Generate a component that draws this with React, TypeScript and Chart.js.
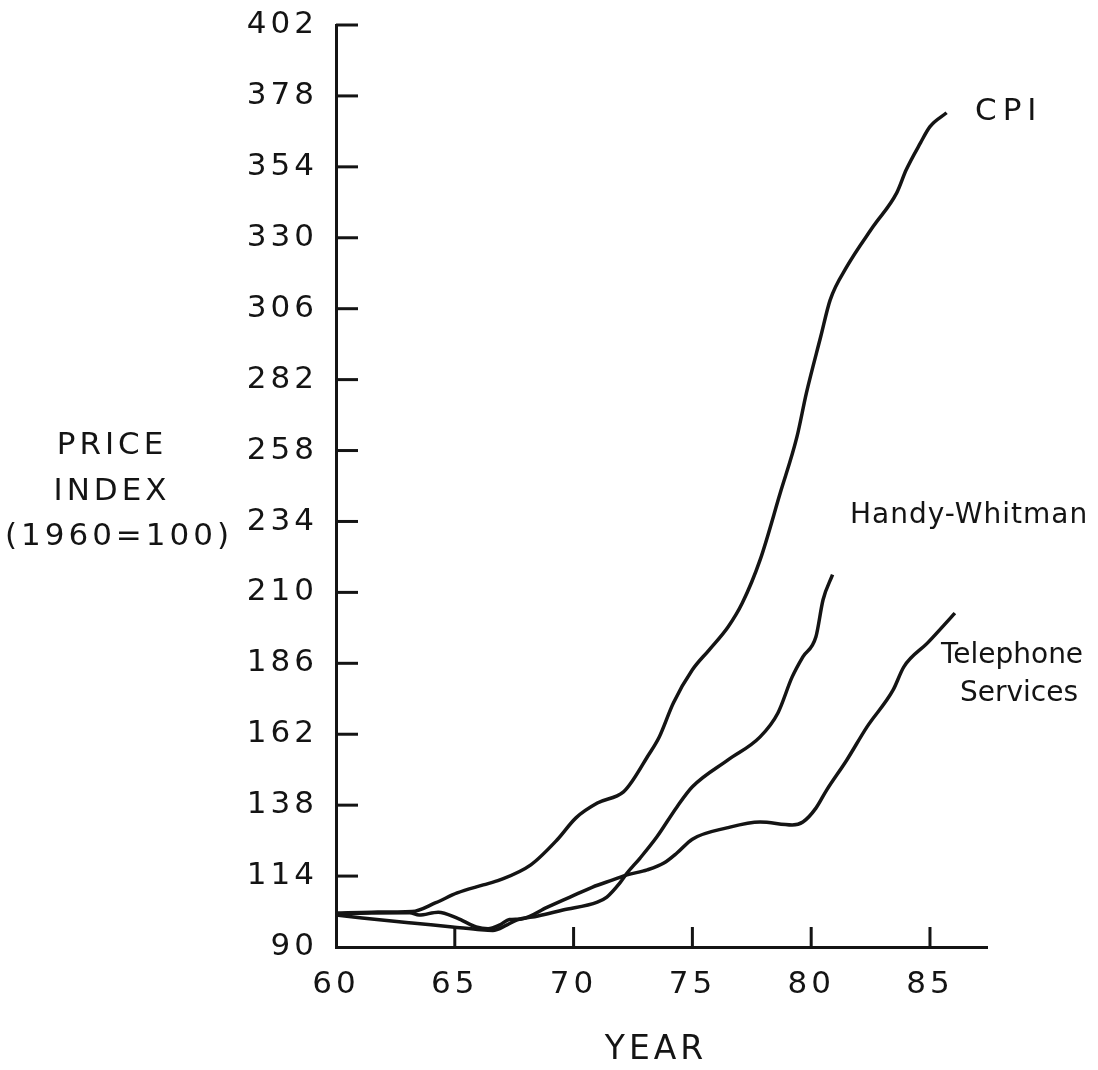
import React, { useEffect, useRef } from "react";
import { Chart, registerables } from "chart.js";

Chart.register(...registerables);

// ---- data ----
const xTickValues = [60, 65, 70, 75, 80, 85];
const yMin = 90;
const yMax = 402;
const yStep = 24;
const xMin = 60;
const xMax = 87.4;

const cpiYears = [60, 61.5, 63.2, 64.2, 65.1, 66.2, 66.9, 68.2, 69.3, 70.1, 71.0, 72.1, 72.5, 73.1, 73.6, 74.2, 75.0, 75.7, 76.5, 77.1, 77.85, 78.7, 79.4, 79.8, 80.4, 80.8, 81.5, 82.6, 83.6, 84.0, 84.6, 85.0, 85.7];
const cpiValues = [101.5, 101.8, 102, 105, 108.3, 111, 112.7, 117.8, 126.2, 133.7, 138.7, 142.5, 146.5, 154.3, 161, 172.6, 183.8, 190.5, 198.3, 206.4, 221, 243.7, 262.6, 277.5, 296.5, 309, 320.2, 333.7, 345.2, 353, 362.1, 367.6, 372.3];

const hwYears = [60, 61.1, 63.2, 64.9, 66.1, 66.6, 67.2, 67.6, 68.5, 69.55, 71.0, 71.4, 71.95, 72.25, 72.8, 73.5, 74.35, 75.0, 76.5, 77.85, 78.6, 79.2, 79.65, 80.2, 80.5, 80.9];
const hwValues = [100.8, 99.8, 98.1, 96.8, 95.8, 95.6, 97.5, 99.1, 100.5, 102.5, 105.2, 106.9, 111.7, 115, 120.1, 127.2, 137.4, 144.2, 153.3, 161.1, 169.2, 181.4, 188.2, 195, 207.5, 216];

const telYears = [60, 61.5, 63.1, 63.5, 64.3, 65.1, 65.9, 66.4, 66.9, 67.3, 67.8, 68.9, 69.85, 70.8, 71.65, 72.25, 73.1, 73.8, 74.35, 75.0, 76.45, 77.85, 79.2, 79.65, 80.2, 80.65, 81.5, 82.35, 83.45, 83.9, 84.9, 86.05];
const telValues = [101.2, 101.5, 101.6, 100.8, 101.8, 99.8, 96.8, 96.2, 97.5, 99.3, 99.5, 103.5, 106.9, 110.3, 112.7, 114.4, 116.1, 118.4, 121.8, 126.5, 130.3, 132.3, 131.3, 132.3, 137, 143.1, 153.3, 164.5, 177, 184.8, 192.9, 203];

const seriesNames = ["CPI", "Handy-Whitman", "Telephone Services"];
const yTitleLines = ["PRICE", "INDEX", "(1960=100)"];
const xTitle = "YEAR";

// ---- style ----
const FONT = '"DejaVu Sans", sans-serif';
const INK = "#141414";

const toPoints = (xs: number[], ys: number[]) => xs.map((x, i) => ({ x, y: ys[i] }));

const spacing = {
  id: "spacing",
  beforeDraw(chart: any) {
    (chart.ctx as any).letterSpacing = "4px";
  },
  afterDraw(chart: any) {
    (chart.ctx as any).letterSpacing = "0px";
  },
};

const insideTicks = {
  id: "insideTicks",
  afterDraw(chart: any) {
    const { ctx, chartArea, scales } = chart;
    ctx.save();
    ctx.strokeStyle = INK;
    ctx.lineWidth = 3;
    ctx.lineCap = "butt";
    scales.x.ticks.forEach((t: any) => {
      if (t.value === xMin) return;
      const px = scales.x.getPixelForValue(t.value);
      ctx.beginPath();
      ctx.moveTo(px, chartArea.bottom);
      ctx.lineTo(px, chartArea.bottom - 20);
      ctx.stroke();
    });
    scales.y.ticks.forEach((t: any) => {
      if (t.value === yMin) return;
      const py = scales.y.getPixelForValue(t.value);
      ctx.beginPath();
      ctx.moveTo(chartArea.left, py);
      ctx.lineTo(chartArea.left + 22, py);
      ctx.stroke();
    });
    ctx.restore();
  },
};

const textLabels = {
  id: "textLabels",
  afterDraw(chart: any) {
    const { ctx } = chart;
    ctx.save();
    ctx.fillStyle = INK;
    ctx.textBaseline = "middle";
    const put = (s: string, x: number, y: number, size: number, align: string, sp: number) => {
      ctx.font = `${size}px ${FONT}`;
      (ctx as any).letterSpacing = `${sp}px`;
      ctx.textAlign = align;
      ctx.fillText(s, x, y);
    };
    put(yTitleLines[0], 112, 446, 31, "center", 4);
    put(yTitleLines[1], 112, 492, 31, "center", 4);
    put(yTitleLines[2], 119, 537, 31, "center", 4);
    put(xTitle, 656, 1050, 33, "center", 4);
    put(seriesNames[0], 975, 112, 31, "left", 6);
    put(seriesNames[1], 850, 516, 28, "left", 1);
    put("Telephone", 1012, 656, 28, "center", 0);
    put("Services", 1019, 694, 28, "center", 0);
    ctx.restore();
  },
};

export default function App() {
  const ref = useRef<HTMLCanvasElement | null>(null);
  useEffect(() => {
    if (!ref.current) return;
    const line = (data: any[]) => ({
      data,
      showLine: true,
      borderColor: INK,
      borderWidth: 3.5,
      pointRadius: 0,
      cubicInterpolationMode: "monotone",
      fill: false,
    });
    const chart = new Chart(ref.current, {
      type: "scatter",
      data: {
        datasets: [
          { label: seriesNames[0], ...line(toPoints(cpiYears, cpiValues)) },
          { label: seriesNames[1], ...line(toPoints(hwYears, hwValues)) },
          { label: seriesNames[2], ...line(toPoints(telYears, telValues)) },
        ],
      } as any,
      options: {
        animation: false,
        responsive: false,
        devicePixelRatio: 1,
        layout: { padding: { top: 25, right: 111, left: 0, bottom: 0 } },
        plugins: { legend: { display: false }, tooltip: { enabled: false } },
        scales: {
          x: {
            type: "linear",
            min: xMin,
            max: xMax,
            afterBuildTicks: (s: any) => {
              s.ticks = xTickValues.map((v) => ({ value: v }));
            },
            afterFit: (s: any) => {
              s.height = 123;
              s.paddingLeft = 0;
              s.paddingRight = 0;
            },
            grid: { display: false, drawTicks: false },
            border: { display: true, width: 3, color: INK },
            ticks: {
              font: { family: FONT, size: 31 },
              color: INK,
              padding: 19,
              maxRotation: 0,
              autoSkip: false,
            },
          },
          y: {
            type: "linear",
            min: yMin,
            max: yMax,
            afterFit: (s: any) => {
              s.width = 336;
              s.paddingTop = 0;
              s.paddingBottom = 0;
            },
            grid: { display: false, drawTicks: false },
            border: { display: true, width: 3, color: INK },
            ticks: {
              stepSize: yStep,
              font: { family: FONT, size: 31 },
              color: INK,
              padding: 18,
            },
          },
        },
      } as any,
      plugins: [spacing, insideTicks, textLabels],
    });
    return () => chart.destroy();
  }, []);
  return (
    <div style={{ position: "absolute", left: 0, top: 0, width: 1098, height: 1070, background: "#fff" }}>
      <canvas ref={ref} width={1098} height={1070} />
    </div>
  );
}
